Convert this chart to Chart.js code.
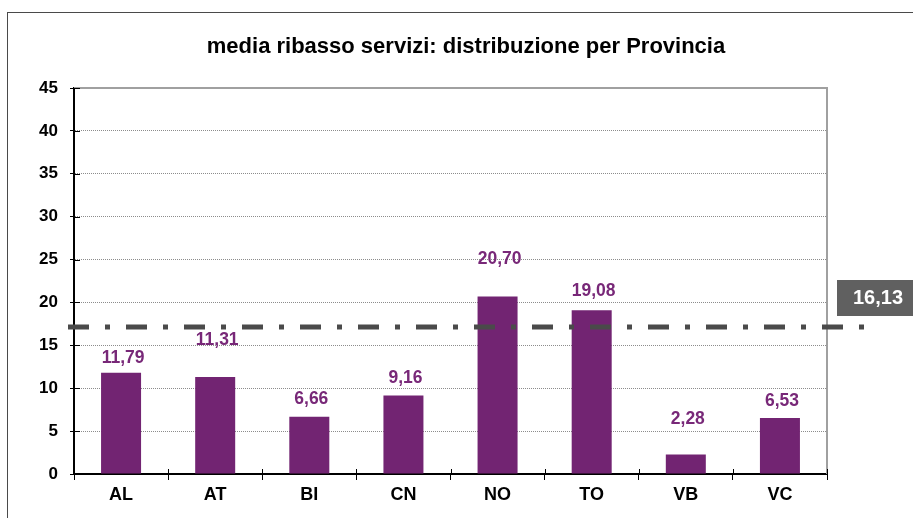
<!DOCTYPE html>
<html><head><meta charset="utf-8">
<script src="https://cdn.jsdelivr.net/npm/chart.js@4.4.1/dist/chart.umd.min.js"></script>
<style>html,body{margin:0;padding:0;background:#fff;}canvas{display:block;}</style>
</head><body>
<canvas id="c" width="913" height="518"></canvas>
<script>
// ---- data ----
const categories = ['AL', 'AT', 'BI', 'CN', 'NO', 'TO', 'VB', 'VC'];
const values = [11.79, 11.31, 6.66, 9.16, 20.70, 19.08, 2.28, 6.53];
const yMin = 0, yMax = 45, yStep = 5;
const referenceLevel = 17.15;      // where the dash-dot line is drawn
const referenceLabel = '16,13';    // text of the reference box
const chartTitle = 'media ribasso servizi: distribuzione per Provincia';

// ---- label placement (pixels above bar top) ----
const labelLift = [15, 37, 18, 17, 37, 19, 35, 17];

const FONT = "'Liberation Sans', Arial, sans-serif";
const BAR = '#722472';
const LABEL = '#782878';

const fmt = v => v.toFixed(2).replace('.', ',');

const decor = {
  id: 'decor',
  beforeDraw(chart) {
    const ctx = chart.ctx;
    ctx.save();
    ctx.fillStyle = '#fff';
    ctx.fillRect(0, 0, chart.width, chart.height);
    ctx.strokeStyle = '#4a4a4a';
    ctx.lineWidth = 1;
    ctx.strokeRect(7.5, 12.5, 1200, 1200);
    ctx.fillStyle = '#000';
    ctx.font = 'bold 22px ' + FONT;
    ctx.textAlign = 'center';
    ctx.textBaseline = 'middle';
    ctx.fillText(chartTitle, 466, 47);
    ctx.restore();
  },
  afterDraw(chart) {
    const ctx = chart.ctx;
    const a = chart.chartArea;
    const ys = chart.scales.y, xs = chart.scales.x;
    ctx.save();
    // plot top/right border
    ctx.strokeStyle = '#a0a0a0';
    ctx.lineWidth = 2;
    ctx.beginPath();
    ctx.moveTo(a.left, a.top);
    ctx.lineTo(a.right, a.top);
    ctx.lineTo(a.right, a.bottom);
    ctx.stroke();
    // inward part of tick marks
    ctx.strokeStyle = '#000';
    ctx.lineWidth = 1;
    const n = categories.length;
    const step = (a.right - a.left) / n;
    for (let i = 0; i <= n; i++) {
      const px = Math.round(xs.getPixelForValue(i) - step / 2) + 0.5;
      ctx.beginPath();
      ctx.moveTo(px, a.bottom - 5);
      ctx.lineTo(px, a.bottom);
      ctx.stroke();
    }
    ys.ticks.forEach(t => {
      const py = Math.round(ys.getPixelForValue(t.value)) + 0.5;
      ctx.beginPath();
      ctx.moveTo(a.left, py);
      ctx.lineTo(a.left + 6, py);
      ctx.stroke();
    });
    // reference dash-dot line
    const ry = ys.getPixelForValue(referenceLevel);
    ctx.strokeStyle = '#4a4a4a';
    ctx.lineWidth = 5;
    ctx.lineCap = 'butt';
    ctx.setLineDash([21, 16, 5, 16]);
    ctx.beginPath();
    ctx.moveTo(68, ry);
    ctx.lineTo(872, ry);
    ctx.stroke();
    ctx.setLineDash([]);
    // reference box
    ctx.fillStyle = '#606060';
    ctx.fillRect(837, 280, 76, 36);
    ctx.fillStyle = '#fff';
    ctx.font = 'bold 20px ' + FONT;
    ctx.textAlign = 'center';
    ctx.textBaseline = 'middle';
    ctx.fillText(referenceLabel, 878, 298);
    // value labels
    const meta = chart.getDatasetMeta(0);
    ctx.fillStyle = LABEL;
    ctx.font = 'bold 17.5px ' + FONT;
    meta.data.forEach((bar, i) => {
      ctx.fillText(fmt(values[i]), bar.x + 2, bar.y - labelLift[i]);
    });
    ctx.restore();
  }
};

new Chart(document.getElementById('c'), {
  type: 'bar',
  data: {
    labels: categories,
    datasets: [{
      data: values,
      backgroundColor: BAR,
      borderWidth: 0,
      barPercentage: 0.425,
      categoryPercentage: 1
    }]
  },
  options: {
    responsive: false,
    devicePixelRatio: 1,
    animation: false,
    layout: { padding: { top: 88, right: 86, left: 0, bottom: 0 } },
    plugins: { legend: { display: false }, title: { display: false }, tooltip: { enabled: false } },
    scales: {
      x: {
        offset: true,
        afterFit(s) { s.height = 44; },
        ticks: { color: '#000', font: { family: FONT, size: 18, weight: 'bold' }, padding: 4 },
        grid: { offset: true, drawOnChartArea: false, tickLength: 6, tickColor: '#000', color: '#000', lineWidth: 1 },
        border: { display: true, color: '#000', width: 2 }
      },
      y: {
        min: yMin, max: yMax,
        afterFit(s) { s.width = 74; },
        ticks: { stepSize: yStep, color: '#000', font: { family: FONT, size: 17, weight: 'bold' }, padding: 12 },
        grid: { color: '#8c8c8c', lineWidth: 1, tickLength: 4, tickColor: '#000', tickWidth: 1 },
        border: { display: true, color: '#000', width: 2, dash: [1, 1] }
      }
    }
  },
  plugins: [decor]
});
</script>
</body></html>
